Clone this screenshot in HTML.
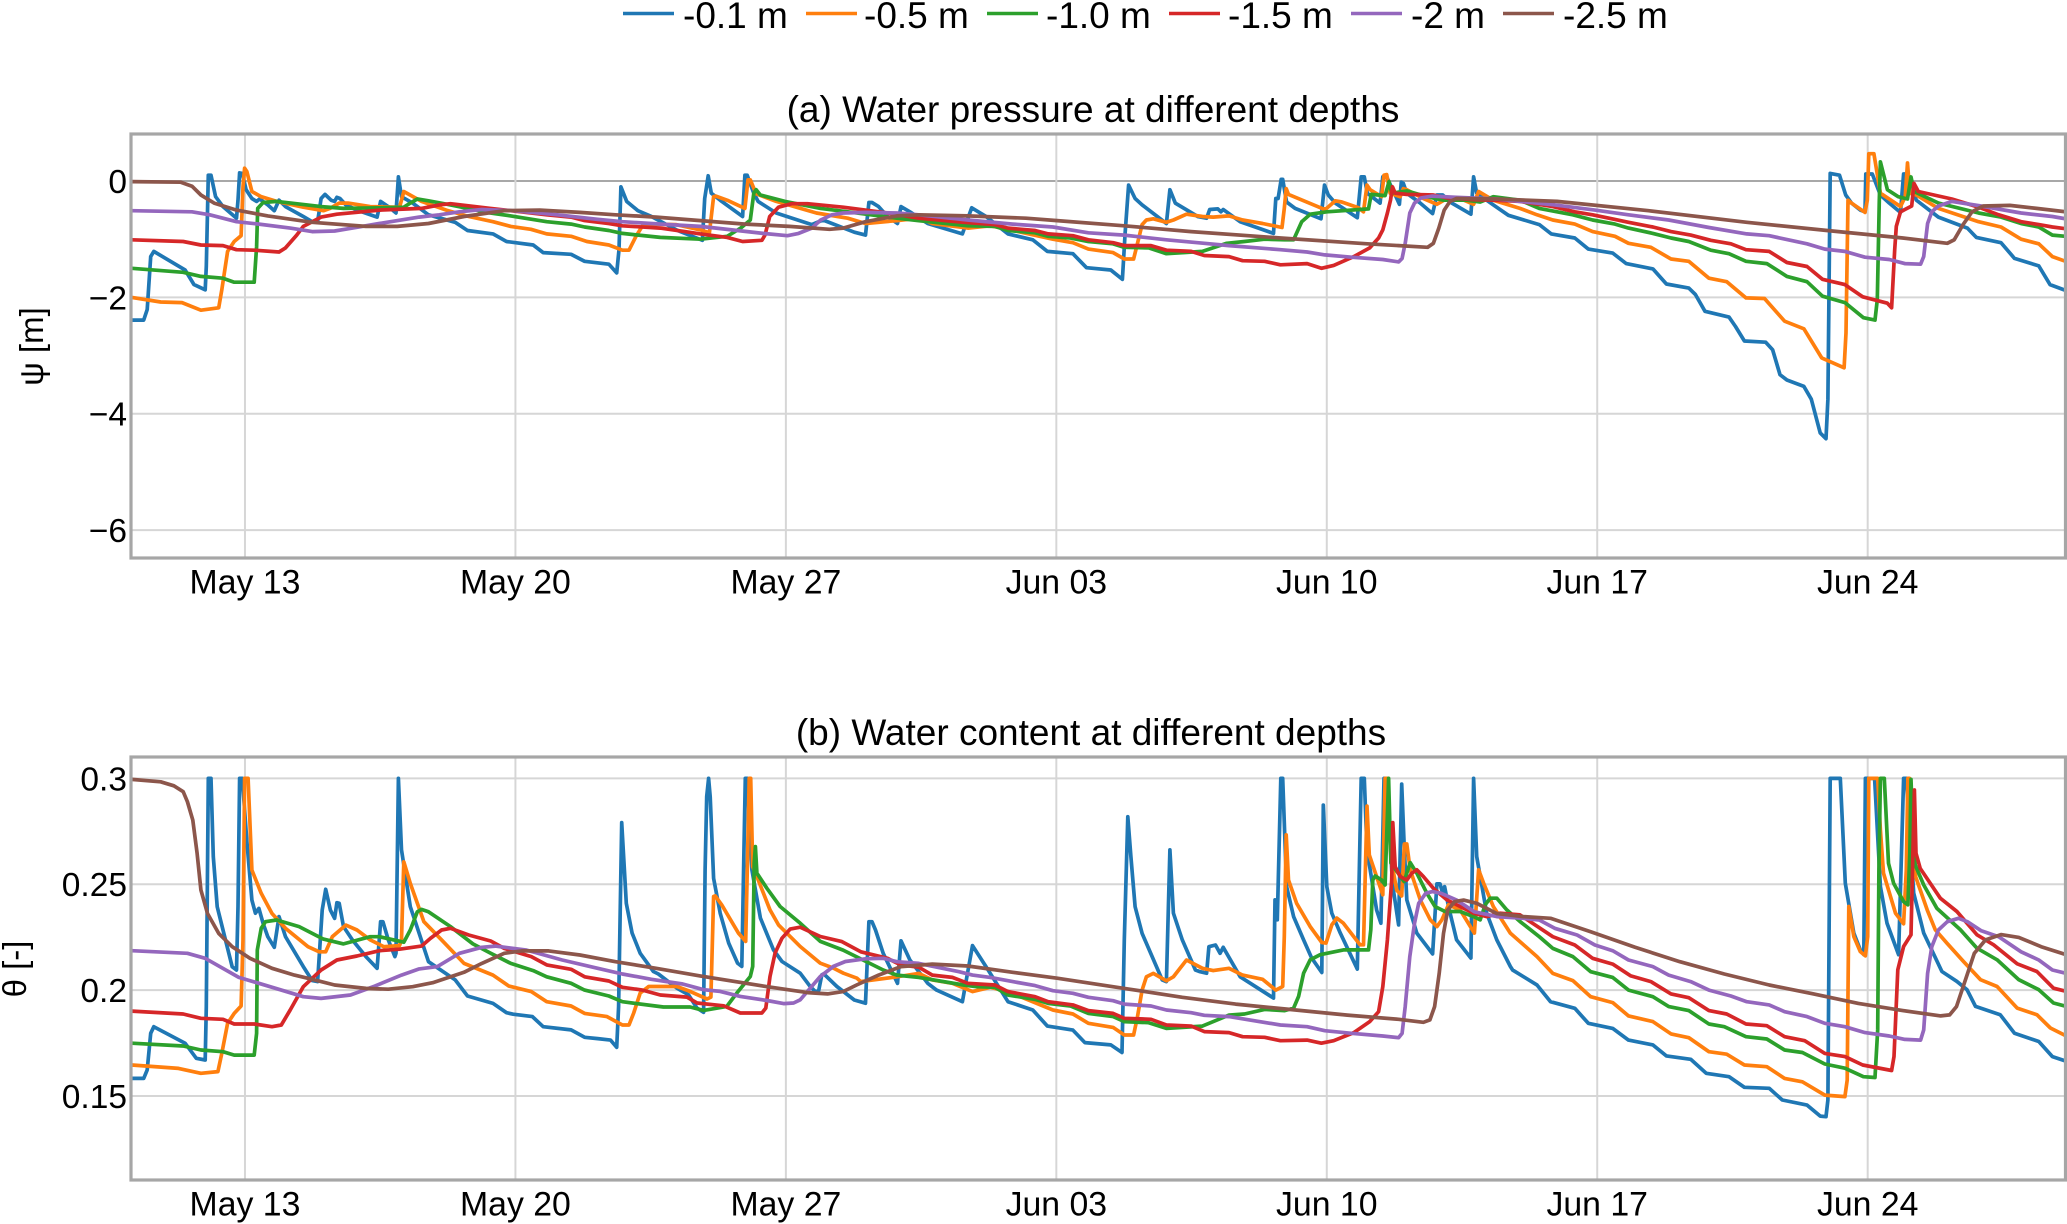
<!DOCTYPE html>
<html lang="en">
<head>
<meta charset="utf-8">
<title>Water pressure and water content at different depths</title>
<style>
html,body{margin:0;padding:0;background:#fff;width:2067px;height:1224px;overflow:hidden}
svg{display:block}
text{font-family:"Liberation Sans",Arial,sans-serif;fill:#000}
</style>
</head>
<body>
<svg id="chart" xmlns="http://www.w3.org/2000/svg" width="2067" height="1224" viewBox="0 0 2067 1224">
  <rect x="0" y="0" width="2067" height="1224" fill="#fff"/>
  <g font-size="37">
    <line x1="623" x2="674" y1="13.5" y2="13.5" stroke="#1f77b4" stroke-width="3.6"/>
    <text x="683" y="28">-0.1 m</text>
    <line x1="806" x2="857" y1="13.5" y2="13.5" stroke="#ff7f0e" stroke-width="3.6"/>
    <text x="864" y="28">-0.5 m</text>
    <line x1="987" x2="1038" y1="13.5" y2="13.5" stroke="#2ca02c" stroke-width="3.6"/>
    <text x="1046" y="28">-1.0 m</text>
    <line x1="1169" x2="1220" y1="13.5" y2="13.5" stroke="#d62728" stroke-width="3.6"/>
    <text x="1228" y="28">-1.5 m</text>
    <line x1="1351" x2="1402" y1="13.5" y2="13.5" stroke="#9467bd" stroke-width="3.6"/>
    <text x="1411" y="28">-2 m</text>
    <line x1="1503" x2="1554" y1="13.5" y2="13.5" stroke="#8c564b" stroke-width="3.6"/>
    <text x="1563" y="28">-2.5 m</text>
  </g>
  <text x="1093" y="122" font-size="37" text-anchor="middle">(a) Water pressure at different depths</text>
  <text x="1091" y="745" font-size="37" text-anchor="middle">(b) Water content at different depths</text>
  <text transform="translate(43,346.5) rotate(-90)" font-size="33" text-anchor="middle">ψ [m]</text>
  <text transform="translate(26,969) rotate(-90)" font-size="33" text-anchor="middle">θ [-]</text>
  <defs>
    <clipPath id="clip-a"><rect x="131" y="134" width="1934.5" height="424"/></clipPath>
    <clipPath id="clip-b"><rect x="131" y="757" width="1934.5" height="423"/></clipPath>
  </defs>
</svg>
<script>
// Time axis: days counted from May 13
const dayTicks = [0,7,14,21,28,35,42];
const dayTickLabels = ["May 13","May 20","May 27","Jun 03","Jun 10","Jun 17","Jun 24"];
const psiTicks = [0,-2,-4,-6];
const psiTickLabels = ["0","\u22122","\u22124","\u22126"];
const thetaTicks = [0.3,0.25,0.2,0.15];
const thetaTickLabels = ["0.3","0.25","0.2","0.15"];

// (b) water content, -0.1 m
const thetaDays01 = [
-2.93,-2.62,-2.53,-2.44,-2.36,-1.55,-1.26,-1.03,-1,-.95,
-.88,-.82,-.72,-.57,-.33,-.22,-.18,-.14,-.07,.05,
.18,.27,.36,.47,.59,.76,.88,1.05,1.51,1.74,
1.88,2,2.09,2.21,2.32,2.38,2.44,2.55,2.78,3.13,
3.42,3.51,3.57,3.71,3.88,3.91,3.97,4.05,4.28,4.51,
4.75,5.44,5.76,6.42,6.77,6.94,7.44,7.72,8.44,8.79,
9.13,9.46,9.62,9.67,9.75,9.87,10.02,10.23,10.57,10.7,
11.18,11.48,11.7,11.87,11.91,11.95,12,12.04,12.13,12.3,
12.52,12.75,12.86,12.92,12.95,13,13.05,13.12,13.34,13.68,
13.9,14.37,14.63,14.76,14.85,14.93,14.98,15.32,15.77,16.06,
16.15,16.23,16.32,16.52,16.89,16.98,17.21,17.67,17.9,18.57,
18.83,19.18,19.75,20.39,20.77,21.43,21.74,22.41,22.7,22.76,
22.85,22.93,23.04,23.22,23.74,23.85,23.94,24.03,24.26,24.6,
24.72,24.89,24.95,25.12,25.24,25.32,25.76,26.62,26.66,26.72,
26.81,26.86,26.96,27.14,27.4,27.61,27.87,27.91,28,28.13,
28.35,28.79,28.86,28.89,28.97,29.04,29.29,29.4,29.45,29.48,
29.55,29.7,29.86,29.94,30,30.07,30.33,30.74,30.85,30.93,
31,31.05,31.15,31.36,31.73,31.8,31.88,32.14,32.4,32.75,
32.81,33.44,33.79,34.42,34.77,35.4,35.81,36.44,36.79,37.42,
37.82,38.41,38.81,39.45,39.79,40.43,40.77,40.92,40.97,41.03,
41.29,41.42,41.64,41.81,41.9,41.94,42.18,42.33,42.5,42.8,
42.93,43,43.19,43.45,43.92,44.31,44.57,44.79,45.43,45.8,
46.43,46.78,47.12];
const thetaValues01 = [
.1583,.1583,.1623,.1796,.1827,.1749,.1678,.167,.192,.3,
.3,.263,.2394,.2284,.211,.2095,.2394,.3,.3,.2701,
.2425,.2363,.2386,.2315,.2252,.2202,.2347,.2252,.2111,.2045,
.204,.2378,.2476,.2378,.2339,.2413,.241,.23,.2237,.2158,
.2103,.2323,.2323,.2237,.2158,.2174,.3,.2662,.2394,.2268,
.2134,.2048,.1972,.1937,.1893,.1886,.1875,.1827,.1812,.1777,
.1771,.1764,.173,.1922,.2791,.241,.2269,.2174,.2088,.2076,
.2009,.1978,.1915,.1895,.2568,.2914,.3,.2914,.2528,.2363,
.2222,.2127,.2112,.2725,.3,.3,.2803,.2568,.234,.219,
.2135,.208,.2017,.1994,.1998,.2072,.2077,.2017,.1953,.1938,
.2323,.2323,.2284,.2174,.2032,.2233,.2142,.2032,.2,.1945,
.221,.2111,.1945,.1906,.183,.1811,.1752,.1741,.1705,.2237,
.2819,.263,.2394,.2268,.2048,.204,.2662,.2363,.2237,.2095,
.2087,.208,.2205,.2213,.2174,.2202,.2063,.1962,.2426,.2332,
.3,.3,.2489,.2347,.2237,.2151,.2083,.2874,.2489,.2363,
.2269,.2099,.2725,.3,.3,.2662,.2379,.2316,.2725,.3,
.3,.25,.2308,.2973,.2693,.2426,.2269,.2171,.2502,.2502,
.2458,.2489,.2395,.2237,.2151,.3,.2631,.2363,.2237,.2112,
.2095,.2024,.1945,.1914,.1843,.1819,.1764,.1741,.1689,.1673,
.1607,.1591,.1541,.1536,.1481,.1457,.1405,.1402,.1481,.3,
.3,.2505,.2269,.219,.2167,.3,.3,.2489,.2316,.2167,
.3,.3,.2458,.2269,.2088,.2041,.2002,.1923,.1884,.1796,
.1757,.1686,.1665];

// (b) water content, -0.5 m
const thetaDays05 = [
-2.93,-1.72,-1.14,-.7,-.6,-.45,-.28,-.1,-.05,-.01,
.08,.18,.42,.7,1.05,1.63,1.92,2.09,2.26,2.61,
2.9,3.24,3.59,4,4.05,4.11,4.28,4.63,5.09,5.67,
6.42,6.83,7.41,7.81,8.44,8.79,9.37,9.77,9.94,10.06,
10.23,10.45,11.18,11.52,11.96,12.06,12.13,12.17,12.34,12.77,
12.96,13.02,13.05,13.09,13.14,13.25,13.59,13.81,14.37,14.89,
15.23,15.49,15.84,15.94,16.87,17.44,17.79,18.31,18.83,19.29,
19.75,20.91,21.43,21.83,22.47,22.76,23,23.1,23.22,23.33,
23.51,23.85,24.03,24.37,24.78,25.06,25.47,25.82,26.34,26.68,
26.86,26.9,26.95,27.01,27.22,27.57,27.87,27.98,28.13,28.26,
28.43,28.86,28.95,29.04,29.1,29.29,29.45,29.51,29.57,29.66,
29.81,29.94,30.01,30.07,30.16,30.42,30.68,30.85,30.98,31.15,
31.45,31.82,31.93,32.06,32.31,32.75,33.44,33.85,34.37,34.83,
35.4,35.81,36.44,36.91,37.37,37.89,38.35,38.81,39.39,39.85,
40.31,40.89,41.41,41.47,41.51,41.64,41.81,41.94,42,42.03,
42.07,42.26,42.33,42.41,42.72,42.93,43,43.04,43.08,43.15,
43.24,43.54,43.75,44.05,44.48,44.92,45.35,45.87,46.38,46.73,
47.12];
const thetaValues05 = [
.1646,.163,.1607,.1615,.1701,.1843,.189,.1925,.2237,.3,
.3,.2567,.2457,.2362,.2292,.2205,.2181,.2181,.2252,.2307,
.2284,.2237,.2205,.221,.2237,.2606,.2504,.2323,.2237,.2126,
.2071,.2019,.1993,.1945,.1925,.189,.1875,.1835,.1835,.1892,
.1986,.2017,.2017,.1994,.1958,.1967,.2442,.2445,.2403,.2269,
.223,.2725,.3,.3,.2583,.2536,.2379,.2308,.2206,.2127,
.2104,.208,.2056,.204,.2063,.2079,.2048,.2032,.1993,.2013,
.1993,.1906,.1887,.1843,.1824,.1788,.1788,.1875,.2,.2063,
.2079,.2044,.2063,.2142,.2103,.2092,.2103,.2071,.2051,.2,
.2017,.2253,.2733,.252,.241,.23,.2225,.2222,.2308,.234,
.2316,.2214,.2214,.2869,.2638,.2536,.245,.3,.3,.2623,
.2473,.2445,.269,.269,.2568,.2426,.2332,.23,.2332,.2403,
.2379,.2269,.2568,.2505,.2395,.2269,.2158,.2079,.2045,.1969,
.1941,.1878,.1851,.1793,.1775,.1709,.1697,.1646,.1638,.1583,
.1567,.1504,.1497,.1575,.2395,.2253,.2182,.2162,.2253,.3,
.3,.3,.2756,.2552,.2363,.2313,.2568,.3,.3,.2725,
.2536,.2379,.2285,.2222,.2135,.2049,.2017,.1915,.1884,.1821,
.1785];

// (b) water content, -1.0 m
const thetaDays10 = [
-2.93,-1.6,-1.14,-.57,-.28,.24,.3,.32,.42,.53,
.82,1.4,2.03,2.55,3.24,3.48,4.11,4.28,4.46,4.57,
4.75,5.32,5.9,6.36,6.88,7.46,7.81,8.44,8.79,9.42,
9.77,10.83,11.52,11.87,12.47,12.73,13.08,13.14,13.18,13.21,
13.25,13.51,13.85,14.37,14.89,15.48,16.52,16.87,17.44,18.6,
18.94,19.41,19.75,20.45,20.79,21.37,21.83,22.47,22.76,23.39,
23.85,24.78,25.47,25.87,26.39,26.91,27.14,27.27,27.4,27.57,
27.83,28.43,29.08,29.14,29.19,29.25,29.42,29.51,29.6,29.66,
30,30.16,30.33,30.59,30.8,31.06,31.45,31.8,31.97,32.1,
32.23,32.4,32.66,33,33.5,33.85,34.37,34.83,35.4,35.81,
36.44,36.85,37.37,37.89,38.29,38.85,39.39,39.85,40.31,40.89,
41.41,41.89,42.19,42.26,42.29,42.33,42.43,42.54,42.67,42.93,
43.04,43.09,43.12,43.16,43.23,43.45,43.79,44.4,44.83,45.35,
45.91,46.43,46.81,47.12];
const thetaValues10 = [
.1749,.1736,.1717,.1709,.1693,.1693,.1796,.2189,.2292,.2323,
.2331,.23,.2241,.2218,.2252,.2252,.2226,.2284,.237,.2381,
.237,.23,.2218,.2174,.2126,.2092,.2063,.2032,.2,.1972,
.1945,.192,.192,.1904,.1923,.1986,.2064,.2112,.2599,.2678,
.2552,.2481,.2395,.2316,.223,.2189,.2095,.2071,.206,.2024,
.2016,.2013,.1977,.1956,.1937,.1925,.189,.1875,.1851,.1846,
.1819,.183,.1882,.1887,.1909,.1903,.1915,.197,.208,.2143,
.2167,.219,.219,.2285,.252,.2539,.252,.2497,.3,.26,
.2513,.2602,.2552,.2458,.2395,.2371,.2371,.2347,.2332,.2403,
.2434,.2434,.2379,.2324,.2252,.2197,.2158,.2087,.206,.2,
.1969,.1922,.1903,.184,.1827,.178,.1769,.1717,.1705,.1651,
.1631,.1591,.1587,.1813,.2568,.3,.3,.2599,.2505,.2418,
.2403,.2646,.2995,.28,.2591,.2497,.2387,.2285,.2198,.2143,
.2049,.2002,.1939,.1924];

// (b) water content, -1.5 m
const thetaDays15 = [
-2.93,-1.6,-1.14,-.57,-.28,.24,.7,.94,1.17,1.51,
1.97,2.38,2.9,3.48,4,4.57,4.8,5.09,5.32,5.79,
6.36,6.71,7.41,7.81,8.44,8.79,9.42,9.77,10.29,10.75,
11.44,11.7,12.39,12.82,13.38,13.48,13.59,13.72,13.9,14.11,
14.37,14.89,15.45,15.94,16.63,16.98,17.44,17.79,18.31,18.71,
19.41,19.75,20.45,20.79,21.43,21.83,22.47,22.76,23.45,23.85,
24.49,24.83,25.47,25.82,26.39,26.8,27.49,27.86,28.18,28.7,
29.11,29.34,29.45,29.57,29.68,29.71,29.77,29.9,30.07,30.2,
30.33,30.5,30.76,31.11,31.45,31.8,32.14,32.49,33,33.85,
34.42,34.88,35.4,35.87,36.39,36.91,37.37,37.89,38.35,38.85,
39.39,39.85,40.37,40.89,41.41,41.87,42.62,42.68,42.78,42.93,
43.12,43.16,43.21,43.25,43.36,43.88,44.31,44.83,45.26,45.87,
46.38,46.81,47.12];
const thetaValues15 = [
.1901,.1887,.1867,.1862,.184,.184,.1827,.1835,.1906,.2016,
.2095,.2142,.2161,.2186,.2193,.2208,.2244,.2284,.2292,.226,
.2232,.2197,.2158,.2119,.2098,.2063,.2043,.2013,.2,.1977,
.1967,.1939,.1926,.1892,.1892,.1915,.2064,.2175,.2245,.2288,
.2297,.2253,.2229,.2181,.215,.2118,.2108,.2071,.206,.2032,
.2024,.1993,.1969,.1945,.193,.1903,.189,.1867,.1862,.1835,
.183,.1804,.1799,.178,.1777,.1761,.1764,.1749,.1761,.1799,
.1851,.1898,.2016,.2237,.252,.2791,.2583,.2536,.252,.2552,
.2568,.2536,.2481,.2426,.2395,.2363,.2347,.2363,.2355,.2252,
.2213,.215,.2123,.2067,.204,.1982,.1964,.1903,.1887,.184,
.1832,.178,.1761,.1701,.1686,.1646,.162,.1686,.2096,.2206,
.2261,.2568,.2945,.2646,.2575,.2434,.2371,.2261,.2214,.2124,
.2088,.2009,.1995];

// (b) water content, -2 m
const thetaDays20 = [
-2.93,-1.49,-1.03,-.16,.36,1.51,1.97,2.73,3.36,4.05,
4.51,4.98,5.55,6.13,6.48,7.29,8.21,9.13,9.77,10.52,
11.33,11.87,12.3,12.82,13.51,13.94,14.2,14.37,14.63,14.89,
15.23,15.54,16.06,16.52,16.87,17.44,18.48,18.83,19.29,19.87,
20.45,20.91,21.43,21.83,22.47,22.76,23.45,23.85,24.49,24.83,
25.47,26.8,27.49,27.95,28.64,29.45,29.86,29.95,30.03,30.15,
30.27,30.38,30.56,30.73,30.96,31.36,31.82,32.4,33.09,33.5,
33.9,34.48,34.94,35.4,35.81,36.44,36.85,37.42,37.89,38.46,
38.87,39.45,39.85,40.43,40.89,41.41,41.93,42.56,42.96,43.37,
43.45,43.55,43.66,43.83,44.06,44.35,44.58,44.93,45.39,45.97,
46.43,46.78,47.12];
const thetaValues20 = [
.2186,.2174,.215,.206,.2032,.1969,.1961,.1977,.2019,.2071,
.21,.2111,.2174,.2202,.2208,.2189,.2142,.2103,.2076,.2051,
.2029,.2002,.1994,.197,.1951,.1936,.1939,.1954,.2009,.2064,
.2112,.2135,.2148,.215,.2134,.2126,.2087,.2071,.206,.204,
.2021,.1997,.1985,.1966,.195,.1934,.1925,.1906,.1893,.1881,
.1875,.1835,.1827,.1808,.1796,.1783,.1775,.1796,.1922,.2158,
.2315,.241,.2457,.2465,.2457,.2425,.237,.2347,.2339,.2331,
.2292,.226,.2213,.2186,.2142,.2111,.2071,.204,.2,.1972,
.1945,.193,.1898,.1875,.1843,.1827,.1799,.1783,.1767,.1764,
.1812,.2079,.2205,.2284,.2323,.2339,.2323,.2281,.2252,.2181,
.2142,.2095,.208];

// (b) water content, -2.5 m
const thetaDays25 = [
-2.93,-2.18,-1.84,-1.6,-1.49,-1.35,-1.24,-1.14,-.97,-.68,
-.33,.13,.7,1.28,1.74,2.32,3.13,3.71,4.34,4.86,
5.67,6.13,6.71,7.16,7.86,8.67,9.59,10.64,11.78,13.52,
14.56,15.08,15.48,15.83,16.4,16.98,17.79,18.71,19.87,21.02,
22.76,24.26,25.64,27.03,28.53,29.86,30.5,30.67,30.79,30.91,
31.02,31.13,31.31,31.54,31.88,32.4,33.09,33.79,34.83,35.98,
37.14,38.29,39.45,40.6,41.76,42.91,43.89,44.12,44.3,44.53,
44.76,45.05,45.45,45.91,46.49,47.12];
const thetaValues25 = [
.2995,.2984,.2965,.2937,.289,.2803,.2646,.2473,.2362,.2268,
.2205,.215,.2103,.2071,.2051,.2024,.2008,.2004,.2016,.2035,
.2084,.2126,.2174,.2185,.2185,.2166,.2134,.2103,.2067,.2016,
.1988,.1982,.1993,.2024,.2071,.2111,.2123,.2114,.2084,.2056,
.2008,.1966,.1934,.1909,.1882,.1862,.1848,.1859,.1922,.2079,
.2268,.2378,.2418,.2425,.241,.2362,.2347,.2339,.2276,.2202,
.2134,.2076,.2024,.1982,.1937,.1903,.1878,.1883,.1922,.2048,
.2174,.2237,.2262,.2249,.2205,.2168];

// (a) water pressure, -0.1 m
const psiDays01 = [
-2.93,-2.62,-2.53,-2.44,-2.36,-1.55,-1.32,-1.03,-1,-.95,
-.88,-.76,-.57,-.22,-.18,-.14,-.07,.03,.18,.3,
.38,.59,.76,.88,1.05,1.51,1.74,1.88,1.97,2.07,
2.23,2.32,2.38,2.46,2.61,2.9,3.42,3.51,3.71,3.91,
3.97,4.05,4.34,4.75,5.44,5.76,6.42,6.77,7.46,7.72,
8.44,8.79,9.42,9.62,9.68,9.73,9.88,10.17,10.52,11.2,
11.84,11.9,11.99,12.07,12.3,12.88,12.94,13,13.17,13.28,
13.75,14.67,14.96,15.77,16.06,16.15,16.23,16.4,16.63,16.89,
16.98,17.21,17.67,18.57,18.81,19.18,19.75,20.39,20.77,21.43,
21.78,22.41,22.71,22.78,22.87,23.04,23.22,23.85,23.94,24.08,
24.66,24.89,24.97,25.18,25.26,25.32,25.76,26.62,26.68,26.74,
26.82,26.86,26.96,27.18,27.85,27.94,28.04,28.22,28.79,28.89,
28.97,29.05,29.38,29.45,29.55,29.77,29.88,29.93,29.98,30.07,
30.42,30.74,30.85,31,31.19,31.73,31.8,31.88,32.31,32.7,
33.5,33.81,34.42,34.77,35.4,35.75,36.44,36.79,37.37,37.54,
37.79,38.41,38.58,38.81,39.36,39.54,39.73,39.91,40.35,40.54,
40.77,40.92,40.97,41.03,41.27,41.43,41.58,41.81,41.93,41.95,
42.12,42.33,42.56,42.85,42.93,42.99,43.26,43.83,44.58,44.81,
45.45,45.8,46.43,46.72,47.12];
const psiValues01 = [
-2.39,-2.39,-2.21,-1.3,-1.21,-1.53,-1.78,-1.87,-1.47,.1,
.1,-.27,-.44,-.64,-.33,.14,.13,-.15,-.3,-.35,
-.31,-.41,-.51,-.33,-.44,-.61,-.7,-.7,-.3,-.23,
-.33,-.35,-.28,-.3,-.41,-.5,-.62,-.35,-.44,-.55,
.07,-.27,-.38,-.58,-.71,-.85,-.91,-1.04,-1.1,-1.23,
-1.26,-1.38,-1.43,-1.58,-1.18,-.1,-.35,-.51,-.61,-.85,
-1.02,-.3,.09,-.21,-.33,-.61,.1,.1,-.21,-.35,
-.55,-.75,-.67,-.88,-.93,-.37,-.37,-.44,-.61,-.73,
-.44,-.53,-.73,-.91,-.46,-.61,-.91,-1.01,-1.21,-1.25,
-1.49,-1.53,-1.69,-.9,-.07,-.3,-.41,-.73,-.15,-.38,
-.61,-.64,-.49,-.48,-.53,-.49,-.7,-.9,-.3,-.3,
.03,.03,-.36,-.47,-.65,-.07,-.24,-.38,-.63,.07,
.07,-.21,-.38,.07,.07,-.24,-.4,-.02,-.04,-.21,
-.38,-.56,-.24,-.24,-.36,-.57,.07,-.21,-.41,-.59,
-.75,-.91,-.98,-1.17,-1.24,-1.42,-1.51,-1.77,-1.84,-1.95,
-2.24,-2.34,-2.5,-2.75,-2.77,-2.9,-3.33,-3.42,-3.53,-3.75,
-4.33,-4.43,-3.75,.13,.1,-.24,-.38,-.5,-.53,.12,
.12,-.24,-.38,-.54,.12,.12,-.33,-.62,-.81,-.97,
-1.06,-1.33,-1.46,-1.78,-1.88];

// (a) water pressure, -0.5 m
const psiDays05 = [
-2.93,-2.18,-1.63,-1.14,-.68,-.6,-.45,-.28,-.1,-.05,
-.01,.05,.18,.42,.82,1.51,2.03,2.2,2.44,2.67,
3.24,4,4.05,4.11,4.57,5.21,5.79,6.42,6.88,7.4,
7.81,8.44,8.85,9.42,9.77,9.94,10.12,10.29,10.52,11.15,
11.79,12.02,12.13,12.19,12.48,12.94,13.02,13.08,13.23,13.75,
14.79,15.6,16.06,16.87,17.44,17.79,18.71,19.29,19.75,20.91,
21.43,21.83,22.47,22.76,23,23.1,23.22,23.33,23.51,23.85,
24.03,24.37,24.78,25.06,25.47,25.82,26.34,26.84,26.9,26.95,
27.01,27.91,27.98,28.22,28.39,28.82,28.95,29.04,29.12,29.42,
29.48,29.55,29.64,29.9,29.98,30.07,30.5,30.85,31.11,31.45,
31.8,31.93,32.31,33,33.44,33.85,34.42,34.88,35.46,35.81,
36.39,36.91,37.37,37.89,38.35,38.85,39.33,39.85,40.35,40.81,
41.39,41.44,41.49,41.58,41.93,41.99,42.03,42.16,42.33,42.85,
42.97,43.03,43.09,43.26,43.83,44.87,45.45,45.97,46.43,46.78,
47.12];
const psiValues05 = [
-2,-2.08,-2.09,-2.22,-2.18,-1.87,-1.21,-1.04,-.94,-.1,
.22,.16,-.18,-.27,-.35,-.45,-.51,-.47,-.38,-.38,
-.44,-.45,-.33,-.18,-.35,-.5,-.61,-.7,-.78,-.83,
-.91,-.95,-1.04,-1.1,-1.19,-1.19,-.95,-.77,-.74,-.75,
-.84,-.89,-.27,-.26,-.33,-.47,.02,.02,-.22,-.35,
-.55,-.64,-.73,-.68,-.64,-.73,-.81,-.77,-.83,-1,
-1.06,-1.17,-1.23,-1.34,-1.34,-1.07,-.75,-.67,-.65,-.71,
-.67,-.57,-.61,-.62,-.6,-.67,-.73,-.8,-.47,-.13,
-.23,-.48,-.48,-.34,-.36,-.46,-.53,-.07,-.15,-.27,
.1,.11,-.21,-.27,-.13,-.15,-.3,-.4,-.3,-.3,
-.4,-.18,-.33,-.47,-.58,-.67,-.74,-.87,-.95,-1.07,
-1.14,-1.34,-1.38,-1.67,-1.73,-2.01,-2.02,-2.41,-2.54,-3.04,
-3.21,-2.61,-.33,-.38,-.54,-.33,.47,.47,-.21,-.44,
-.27,.31,-.21,-.24,-.47,-.7,-.79,-1,-1.08,-1.3,
-1.38];

// (a) water pressure, -1.0 m
const psiDays10 = [
-2.93,-1.6,-1.14,-.57,-.28,.24,.3,.33,.47,.82,
1.97,2.55,3.48,4.11,4.28,4.46,4.75,5.32,6.36,6.88,
7.81,8.44,8.79,9.42,9.77,10.75,11.79,12.48,12.83,13.08,
13.17,13.23,13.34,13.98,14.9,15.6,16.87,17.44,18.71,19.41,
19.75,20.45,20.79,21.37,21.83,22.47,22.76,23.39,23.85,24.78,
25.41,25.87,26.39,26.91,27.14,27.35,27.57,28,29.08,29.15,
29.51,29.61,29.68,30.07,30.59,31.02,31.62,31.97,32.31,33,
33.5,34.37,34.88,35.46,35.81,36.44,36.91,37.37,37.94,38.41,
38.85,39.39,39.91,40.43,40.83,41.41,41.89,42.19,42.25,42.3,
42.33,42.51,42.79,43.03,43.12,43.2,43.83,44.87,45.45,45.97,
46.43,46.78,47.12];
const psiValues10 = [
-1.5,-1.57,-1.64,-1.67,-1.74,-1.74,-1.13,-.47,-.37,-.35,
-.44,-.47,-.46,-.45,-.38,-.31,-.34,-.41,-.55,-.6,
-.7,-.74,-.79,-.85,-.9,-.97,-1,-.95,-.81,-.67,
-.21,-.15,-.24,-.35,-.47,-.53,-.64,-.68,-.77,-.78,
-.85,-.89,-.95,-.98,-1.04,-1.08,-1.14,-1.15,-1.25,-1.21,
-1.07,-1.04,-1,-1.01,-1.01,-.7,-.57,-.53,-.48,-.23,
-.25,-.01,-.21,-.17,-.27,-.33,-.33,-.36,-.27,-.33,
-.47,-.58,-.67,-.74,-.81,-.9,-.98,-1.04,-1.19,-1.25,
-1.38,-1.42,-1.64,-1.73,-1.98,-2.09,-2.35,-2.39,-2.04,-.33,
.33,-.15,-.27,-.31,.07,-.18,-.38,-.55,-.62,-.73,
-.79,-.93,-.95];

// (a) water pressure, -1.5 m
const psiDays15 = [
-2.93,-1.6,-1.14,-.57,-.22,.24,.88,1.05,1.34,1.51,
1.97,2.38,3.48,4.57,5.03,5.32,6.36,6.88,7.81,8.44,
8.79,9.42,9.77,10.75,11.38,11.79,12.48,12.88,13.38,13.46,
13.58,13.81,14.15,14.56,15.48,16.63,17.44,18.6,19.41,19.75,
20.45,20.79,21.43,21.83,22.47,22.76,23.45,23.85,24.49,24.83,
25.47,25.82,26.39,26.8,27.49,27.86,28.18,28.7,29.11,29.34,
29.45,29.57,29.65,29.7,29.77,30.07,30.76,31.11,31.8,32.31,
33,33.85,34.42,34.88,35.46,35.81,36.44,36.91,37.42,37.94,
38.46,38.85,39.45,39.91,40.43,40.83,41.41,41.87,42.51,42.62,
42.7,42.74,42.85,43.14,43.2,43.31,44.18,44.87,45.39,45.97,
46.43,46.78,47.12];
const psiValues15 = [
-1.01,-1.04,-1.1,-1.11,-1.18,-1.19,-1.22,-1.15,-.93,-.78,
-.62,-.57,-.5,-.47,-.41,-.39,-.47,-.51,-.58,-.62,
-.68,-.73,-.77,-.81,-.87,-.91,-.97,-1.04,-1.02,-.93,
-.61,-.45,-.39,-.39,-.45,-.55,-.64,-.71,-.75,-.81,
-.85,-.91,-.94,-1.01,-1.06,-1.11,-1.11,-1.19,-1.21,-1.28,
-1.3,-1.37,-1.38,-1.44,-1.42,-1.5,-1.45,-1.3,-1.15,-.98,
-.84,-.55,-.33,-.1,-.21,-.23,-.24,-.29,-.32,-.33,
-.35,-.44,-.53,-.58,-.66,-.71,-.79,-.87,-.93,-1.02,
-1.08,-1.18,-1.21,-1.4,-1.47,-1.69,-1.78,-1.99,-2.1,-2.18,
-1.18,-.78,-.53,-.43,-.04,-.18,-.31,-.45,-.58,-.7,
-.75,-.79,-.82];

// (a) water pressure, -2 m
const psiDays20 = [
-2.93,-1.37,-.91,-.22,.36,1.17,1.74,2.32,2.78,3.48,
4.51,5.03,5.55,6.13,6.94,8.09,9.13,9.77,10.98,11.79,
12.6,13.41,14.04,14.33,14.67,14.9,15.19,15.48,16.06,16.87,
17.44,18.71,19.87,20.91,21.83,22.76,23.85,24.83,25.47,26.8,
27.49,27.95,28.64,29.45,29.86,29.95,30.03,30.15,30.27,30.44,
30.73,31.36,32.4,33.9,34.94,35.81,36.85,37.89,38.87,39.45,
40.43,40.89,41.41,41.93,42.56,42.96,43.37,43.45,43.55,43.66,
43.83,44.18,44.93,45.97,46.78,47.12];
const psiValues20 = [
-.51,-.53,-.58,-.7,-.74,-.81,-.87,-.86,-.81,-.73,
-.62,-.58,-.53,-.49,-.51,-.58,-.66,-.7,-.75,-.78,
-.84,-.9,-.94,-.9,-.81,-.67,-.58,-.55,-.54,-.55,
-.58,-.67,-.74,-.79,-.89,-.93,-1.01,-1.07,-1.11,-1.18,
-1.22,-1.27,-1.31,-1.35,-1.39,-1.33,-1.07,-.55,-.38,-.29,
-.26,-.28,-.31,-.41,-.5,-.58,-.67,-.8,-.91,-.94,
-1.08,-1.17,-1.21,-1.31,-1.35,-1.42,-1.43,-1.3,-.73,-.53,
-.43,-.35,-.43,-.55,-.61,-.65];

// (a) water pressure, -2.5 m
const psiDays25 = [
-2.93,-1.66,-1.37,-1.14,-.8,-.22,.59,1.74,3.13,3.94,
4.75,5.67,6.71,7.63,8.67,9.59,10.64,11.79,12.94,14.09,
15.13,15.48,16.06,16.87,17.44,18.71,20.21,21.02,22.76,24.49,
26.8,29.05,30.61,30.76,30.9,31.04,31.19,31.36,32.4,33.96,
36.33,38.87,40.95,42.91,44.06,44.24,44.47,44.7,44.99,45.68,
46.37,47.12];
const psiValues25 = [
-.01,-.02,-.09,-.24,-.38,-.5,-.6,-.71,-.78,-.78,
-.73,-.61,-.51,-.5,-.54,-.58,-.62,-.68,-.74,-.78,
-.83,-.81,-.7,-.6,-.58,-.6,-.64,-.68,-.77,-.87,
-.98,-1.08,-1.14,-1.07,-.81,-.5,-.35,-.3,-.31,-.35,
-.51,-.71,-.85,-.98,-1.07,-1.01,-.75,-.53,-.43,-.42,
-.47,-.53];

const depthColors = ["#1f77b4","#ff7f0e","#2ca02c","#d62728","#9467bd","#8c564b"];
const depthNames = ["0-1m","0-5m","1-0m","1-5m","2m","2-5m"];

(function () {
  const NS = "http://www.w3.org/2000/svg";
  const svg = document.getElementById("chart");
  const left = 131, right = 2065.5;
  const dayMin = -2.95, dayMax = 47.12;
  const xScale = function (d) { return left + (d - dayMin) / (dayMax - dayMin) * (right - left); };

  function makeY(top, bottom, vTop, vBottom) {
    return function (v) { return top + (vTop - v) / (vTop - vBottom) * (bottom - top); };
  }

  function drawPanel(key, top, bottom, yScale, ticks, tickLabels, daysList, valuesList, clipId) {
    const group = document.createElementNS(NS, "g");
    
    
    svg.appendChild(group);

    ticks.forEach(function (t, i) {
      const y = yScale(t);
      const grid = document.createElementNS(NS, "line");
      
      
      grid.setAttribute("x1", left);
      grid.setAttribute("x2", right);
      grid.setAttribute("y1", y);
      grid.setAttribute("y2", y);
      grid.setAttribute("stroke", i === 0 && key === "pressure" ? "#a8a8a8" : "#d6d6d6");
      grid.setAttribute("stroke-width", "2");
      group.appendChild(grid);
      const label = document.createElementNS(NS, "text");
      
      
      label.setAttribute("x", 127);
      label.setAttribute("y", y + 12);
      label.setAttribute("font-size", "33.5");
      label.setAttribute("text-anchor", "end");
      label.textContent = tickLabels[i];
      group.appendChild(label);
    });

    dayTicks.forEach(function (d, i) {
      const x = xScale(d);
      const grid = document.createElementNS(NS, "line");
      
      
      grid.setAttribute("x1", x);
      grid.setAttribute("x2", x);
      grid.setAttribute("y1", top);
      grid.setAttribute("y2", bottom);
      grid.setAttribute("stroke", "#d6d6d6");
      grid.setAttribute("stroke-width", "2");
      group.appendChild(grid);
      const label = document.createElementNS(NS, "text");
      
      
      label.setAttribute("x", x);
      label.setAttribute("y", bottom + 35.5);
      label.setAttribute("font-size", "33.8");
      label.setAttribute("text-anchor", "middle");
      label.textContent = dayTickLabels[i];
      group.appendChild(label);
    });

    const lines = document.createElementNS(NS, "g");
    lines.setAttribute("clip-path", "url(#" + clipId + ")");
    
    
    group.appendChild(lines);

    daysList.forEach(function (days, s) {
      const values = valuesList[s];
      const n = Math.min(days.length, values.length);
      let pts = "";
      for (let i = 0; i < n; i++) {
        pts += xScale(days[i]).toFixed(1) + "," + yScale(values[i]).toFixed(1) + " ";
      }
      const line = document.createElementNS(NS, "polyline");
      
      
      line.setAttribute("points", pts);
      line.setAttribute("fill", "none");
      line.setAttribute("stroke", depthColors[s]);
      line.setAttribute("stroke-width", "3.7");
      line.setAttribute("stroke-linejoin", "round");
      lines.appendChild(line);
    });

    const frame = document.createElementNS(NS, "rect");
    
    
    frame.setAttribute("x", left);
    frame.setAttribute("y", top);
    frame.setAttribute("width", right - left);
    frame.setAttribute("height", bottom - top);
    frame.setAttribute("fill", "none");
    frame.setAttribute("stroke", "#a6a6a6");
    frame.setAttribute("stroke-width", "3.2");
    group.appendChild(frame);
  }

  drawPanel("pressure", 134, 558, makeY(134, 558, 0.808, -6.48), psiTicks, psiTickLabels,
    [psiDays01, psiDays05, psiDays10, psiDays15, psiDays20, psiDays25],
    [psiValues01, psiValues05, psiValues10, psiValues15, psiValues20, psiValues25], "clip-a");

  drawPanel("content", 757, 1180, makeY(757, 1180, 0.3101, 0.1103), thetaTicks, thetaTickLabels,
    [thetaDays01, thetaDays05, thetaDays10, thetaDays15, thetaDays20, thetaDays25],
    [thetaValues01, thetaValues05, thetaValues10, thetaValues15, thetaValues20, thetaValues25], "clip-b");
})();
</script>
</body>
</html>
